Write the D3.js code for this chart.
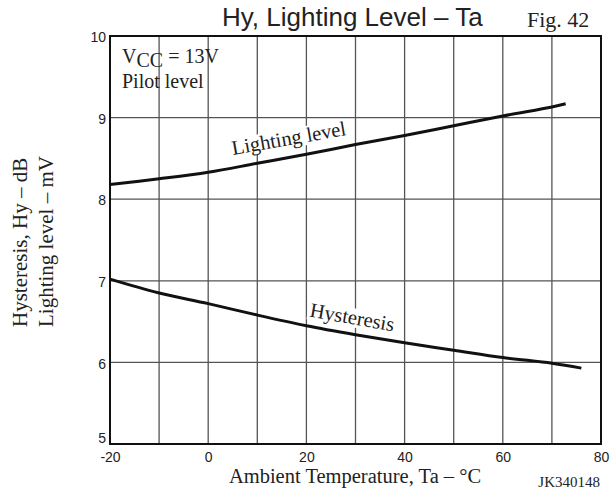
<!DOCTYPE html>
<html><head><meta charset="utf-8">
<script src="https://cdn.jsdelivr.net/npm/d3@7"></script>
<style>
body{margin:0;background:#fff;}
svg{display:block;}
</style></head>
<body>
<script>
// ---- data ----
const xTicks = [-20, 0, 20, 40, 60, 80];
const xTickLabels = ["-20", "0", "20", "40", "60", "80"];
const yTicks = [5, 6, 7, 8, 9, 10];
const yTickLabels = ["5", "6", "7", "8", "9", "10"];
const lightTemps = [-20, -10, 0, 10, 20, 30, 40, 50, 60, 70, 72.8];
const lightValues = [8.18, 8.25, 8.33, 8.44, 8.55, 8.67, 8.78, 8.90, 9.02, 9.13, 9.17];
const hystTemps = [-20, -10, 0, 10, 20, 30, 40, 50, 60, 70, 76];
const hystValues = [7.02, 6.85, 6.72, 6.58, 6.45, 6.34, 6.24, 6.15, 6.06, 5.99, 5.93];

const W = 610, H = 491;
const svg = d3.select("body").append("svg").attr("width", W).attr("height", H);
const x = d3.scaleLinear().domain([-20, 80]).range([110, 601]);
const y = d3.scaleLinear().domain([5, 10]).range([444, 36]);
const serif = "'Liberation Serif','Times New Roman',serif";
const sans = "'Liberation Sans',Arial,sans-serif";

// grid
const grid = svg.append("g");
grid.selectAll("line.v").data(d3.range(-10, 80, 10)).join("line")
  .attr("x1", d => x(d)).attr("x2", d => x(d)).attr("y1", y(10)).attr("y2", y(5))
  .attr("stroke", "#555").attr("stroke-width", 1.3);
grid.selectAll("line.h").data(d3.range(6, 10, 1)).join("line")
  .attr("y1", d => y(d)).attr("y2", d => y(d)).attr("x1", x(-20)).attr("x2", x(80))
  .attr("stroke", "#555").attr("stroke-width", 1.3);

// curves
const line = d3.line().curve(d3.curveCatmullRom.alpha(0.5));
svg.append("path").attr("d", line(lightTemps.map((t, i) => [x(t), y(lightValues[i])])))
  .attr("fill", "none").attr("stroke", "#111").attr("stroke-width", 3);
svg.append("path").attr("d", line(hystTemps.map((t, i) => [x(t), y(hystValues[i])])))
  .attr("fill", "none").attr("stroke", "#111").attr("stroke-width", 3);

// frame
svg.append("rect").attr("x", x(-20)).attr("y", y(10)).attr("width", x(80) - x(-20)).attr("height", y(5) - y(10))
  .attr("fill", "none").attr("stroke", "#111").attr("stroke-width", 2);

// axes
const xAxis = svg.append("g").attr("transform", `translate(0,${y(5)})`)
  .call(d3.axisBottom(x).tickValues(xTicks).tickSize(0).tickPadding(8).tickFormat((d, i) => xTickLabels[i]));
xAxis.select(".domain").remove();
xAxis.selectAll("text").attr("font-family", sans).attr("font-size", 14).attr("fill", "#222");
const yAxis = svg.append("g").attr("transform", `translate(${x(-20)},0)`)
  .call(d3.axisLeft(y).tickValues(yTicks).tickSize(0).tickPadding(4).tickFormat((d, i) => yTickLabels[i]));
yAxis.select(".domain").remove();
yAxis.selectAll("text").attr("font-family", sans).attr("font-size", 14).attr("fill", "#222")
  .attr("dy", d => d === 5 ? "-0.1em" : "0.4em");

// curve labels with white background
function label(txt, cx, cy, ang) {
  const g = svg.append("g").attr("transform", `translate(${cx},${cy}) rotate(${ang})`);
  const r = g.append("rect").attr("fill", "#fff");
  const t = g.append("text").text(txt).attr("font-family", serif).attr("font-size", 20.5)
    .attr("text-anchor", "middle").attr("fill", "#222");
  const b = t.node().getBBox();
  r.attr("x", b.x - 2).attr("y", b.y + 2).attr("width", b.width + 4).attr("height", b.height - 4);
}
label("Lighting level", 290, 145, -10);
label("Hysteresis", 351, 324, 10);

// Vcc text
const v = svg.append("text").attr("x", 122).attr("y", 63).attr("font-family", serif).attr("font-size", 20).attr("fill", "#222");
v.append("tspan").text("V");
v.append("tspan").text("CC").attr("dy", 4);
v.append("tspan").text(" = 13V").attr("dy", -4);
svg.append("text").attr("x", 122).attr("y", 88).text("Pilot level")
  .attr("font-family", serif).attr("font-size", 20).attr("fill", "#222");

// title
svg.append("text").attr("x", 222).attr("y", 26).text("Hy, Lighting Level – Ta")
  .attr("font-family", sans).attr("font-size", 26).attr("fill", "#222");
svg.append("text").attr("x", 527).attr("y", 27).text("Fig. 42")
  .attr("font-family", serif).attr("font-size", 22).attr("fill", "#222");

// axis titles
svg.append("text").attr("x", 355).attr("y", 483).attr("text-anchor", "middle")
  .text("Ambient Temperature, Ta – °C").attr("font-family", serif).attr("font-size", 20.5).attr("fill", "#222");
svg.append("text").attr("x", 600).attr("y", 487).attr("text-anchor", "end")
  .text("JK340148").attr("font-family", serif).attr("font-size", 15).attr("fill", "#222");
svg.append("text").attr("transform", "translate(27,327) rotate(-90)")
  .text("Hysteresis, Hy – dB").attr("font-family", serif).attr("font-size", 21).attr("fill", "#222");
svg.append("text").attr("transform", "translate(53,327) rotate(-90)")
  .text("Lighting level – mV").attr("font-family", serif).attr("font-size", 21).attr("fill", "#222");
</script>
</body></html>
